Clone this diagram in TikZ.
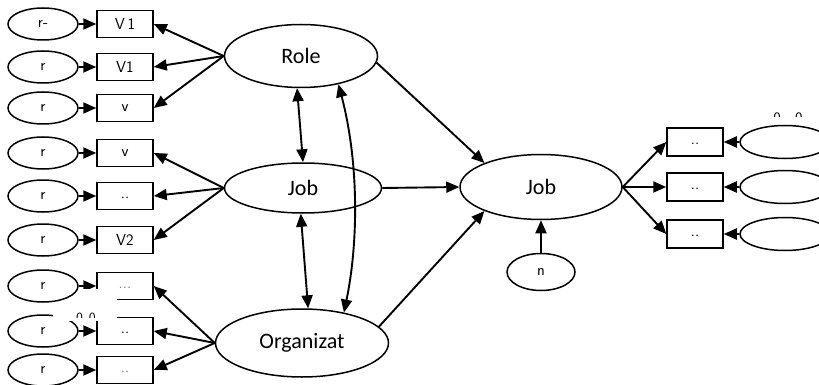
\documentclass[tikz,border=0pt]{standalone}
\usepackage{fontspec}
\setmainfont{Carlito}
\usetikzlibrary{arrows.meta,shapes.geometric}
\newcommand\elab[1]{\raisebox{-5pt}{#1}}
\newcommand\blab[1]{\raisebox{-4pt}{#1}}
\begin{document}
\begin{tikzpicture}[x=1pt,y=-1pt,
 lat/.style={ellipse,draw,line width=1.5pt,inner sep=0pt,font=\fontsize{22}{26}\selectfont},
 err/.style={ellipse,draw,line width=1.5pt,inner sep=0pt,minimum width=70pt,minimum height=32pt,font=\sffamily\fontsize{16}{16}\selectfont},
 rerr/.style={ellipse,draw,line width=1.5pt,inner sep=0pt,minimum width=90pt,minimum height=33pt},
 ind/.style={rectangle,draw,line width=1.5pt,inner sep=0pt,minimum width=56pt,minimum height=27pt,font=\sffamily\fontsize{16}{16}\selectfont},
 arr/.style={line width=1.9pt,-{Triangle[length=13pt,width=11pt]}},
 darr/.style={line width=1.9pt,{Triangle[length=13pt,width=11pt]}-{Triangle[length=13pt,width=11pt]}},
 frag/.style={font=\sffamily\fontsize{14}{14}\selectfont,inner sep=0pt,anchor=base}
]
\useasboundingbox (0,0) rectangle (819,385);

% latent variables
\node[lat,minimum width=153pt,minimum height=63pt] (role) at (301,56) {Role};
\node[lat,minimum width=157pt,minimum height=50pt] (jobl) at (303,188) {Job};
\node[lat,minimum width=173pt,minimum height=68pt] (org) at (302,343) {Organizat};
\node[lat,minimum width=162pt,minimum height=65pt] (jobr) at (541,187) {Job};
\node[err,minimum width=68pt,minimum height=37pt] (d) at (541,272) {\elab{n}};

% left error terms and indicators
\node[err] (e1) at (43,24) {\elab{r-}};
\node[err] (e2) at (43,67) {\elab{r}};
\node[err] (e3) at (43,108) {\elab{r}};
\node[err] (e4) at (43,153) {\elab{r}};
\node[err] (e5) at (43,196) {\elab{r}};
\node[err] (e6) at (43,240) {\elab{r}};
\node[err] (e7) at (43,286) {\elab{r}};
\node[err] (e8) at (43,331) {\elab{r}};
\node[err] (e9) at (43,370) {\elab{r}};

\node[ind] (x1) at (125,24) {\blab{V\,1}};
\node[ind] (x2) at (125,67) {\blab{V1}};
\node[ind] (x3) at (125,108) {\blab{v}};
\node[ind] (x4) at (125,153) {\blab{v}};
\node[ind] (x5) at (125,196) {\blab{..}};
\node[ind] (x6) at (125,240) {\blab{V2}};
\node[ind] (x7) at (125,286) {\blab{\textcolor{gray}{...}}};
\node[ind] (x8) at (125,331) {\blab{..}};
\node[ind] (x9) at (125,370) {\blab{\textcolor{gray}{..}}};

\foreach \i in {1,...,9} {\draw[arr] (e\i) -- (x\i);}
\foreach \i in {1,2,3} {\draw[arr] (role.west) -- (x\i.east);}
\foreach \i in {4,5,6} {\draw[arr] (jobl.west) -- (x\i.east);}
\foreach \i in {7,8,9} {\draw[arr] (org.west) -- (x\i.east);}

% right indicators and error terms
\node[ind,minimum height=28pt] (y1) at (695,142) {\blab{..}};
\node[ind,minimum height=28pt] (y2) at (695,187) {\blab{..}};
\node[ind,minimum height=28pt] (y3) at (695,234) {\blab{..}};
\node[rerr] (f1) at (785,142) {};
\node[rerr] (f2) at (785,187) {};
\node[rerr] (f3) at (785,234) {};
\foreach \i in {1,2,3} {\draw[arr] (f\i) -- (y\i); \draw[arr] (jobr.east) -- (y\i.west);}

% structural paths
\draw[arr] (role.-5) -- (jobr.157);
\draw[arr] (jobl.east) -- (jobr.west);
\draw[arr] (org.12) -- (jobr.-157);
\draw[arr] (d) -- (jobr);
\draw[darr] (role.-97) -- (jobl.north);
\draw[darr] (jobl.-95) -- (org.80);
\draw[darr] (role.-37) .. controls +(20,76) and +(15,-73) .. (org.36);

% covered fragments
\fill[white] (53,303) rectangle (117,321);
\fill[white] (80,289) rectangle (117,321);
\begin{scope}
\clip (60,300) rectangle (110,317.5);
\node[frag] (z1) at (86,322) {0\hspace{6pt}0};
\end{scope}
\begin{scope}
\clip (760,100) rectangle (819,116.5);
\node[frag,font=\sffamily\fontsize{16}{16}\selectfont] (z2) at (788,123.5) {0\hspace{14pt}0};
\end{scope}
\end{tikzpicture}
\end{document}
